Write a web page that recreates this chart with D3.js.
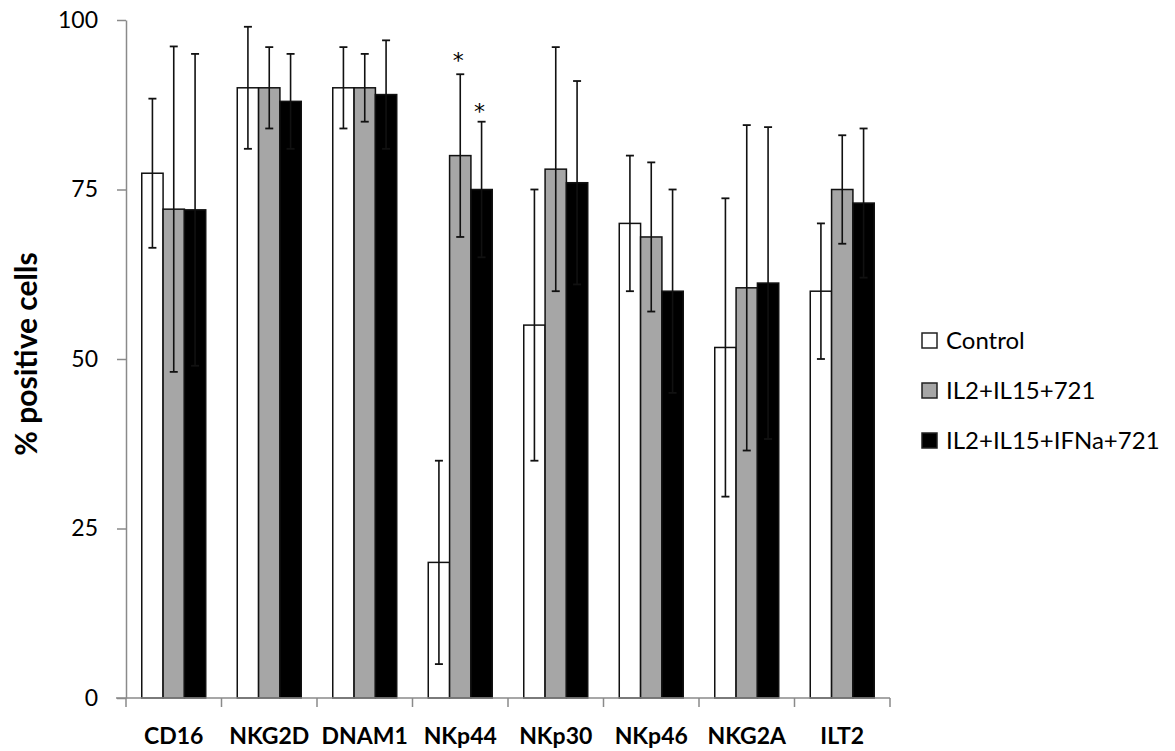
<!DOCTYPE html>
<html>
<head>
<meta charset="utf-8">
<script src="https://cdn.jsdelivr.net/npm/d3@7"></script>
<style>
  html, body { margin: 0; padding: 0; background: #fff; }
  svg { display: block; }
  text { font-family: Lato, "Open Sans", sans-serif; fill: #000; }
</style>
</head>
<body>
<svg id="chart" width="1175" height="751"></svg>
<script>
// ---- data ----
const categories = ["CD16", "NKG2D", "DNAM1", "NKp44", "NKp30", "NKp46", "NKG2A", "ILT2"];
const seriesNames = ["Control", "IL2+IL15+721", "IL2+IL15+IFNa+721"];
const controlValues = [77.4, 90, 90, 20, 55, 70, 51.7, 60];
const controlErrors = [11, 9, 6, 15, 20, 10, 22, 10];
const il2il15Values = [72.1, 90, 90, 80, 78, 68, 60.5, 75];
const il2il15Errors = [24, 6, 5, 12, 18, 11, 24, 8];
const ifnaValues = [72, 88, 89, 75, 76, 60, 61.2, 73];
const ifnaErrors = [23, 7, 8, 10, 15, 15, 23, 11];
const yTicks = [0, 25, 50, 75, 100];
const significance = [{cat: "NKp44", series: 1, gap: 6}, {cat: "NKp44", series: 2, gap: 3}];
const fills = ["#ffffff", "#a6a6a6", "#000000"];

const seriesValues = [controlValues, il2il15Values, ifnaValues];
const seriesErrors = [controlErrors, il2il15Errors, ifnaErrors];

const svg = d3.select("#chart");

const x0 = d3.scaleBand().domain(categories).range([126, 890])
  .paddingInner(0.33).paddingOuter(0.165);
const x1 = d3.scaleBand().domain(d3.range(seriesNames.length)).range([0, x0.bandwidth()]);
const y = d3.scaleLinear().domain([0, 100]).range([698, 20]);

const axisColor = "#8a8a8a";

// y axis
const yAxis = svg.append("g").attr("transform", "translate(126,0)")
  .call(d3.axisLeft(y).tickValues(yTicks).tickSize(9).tickPadding(19).tickSizeOuter(0));
yAxis.select(".domain").attr("stroke", axisColor).attr("stroke-width", 1.5);
yAxis.selectAll(".tick line").attr("stroke", axisColor).attr("stroke-width", 1.5);
yAxis.selectAll(".tick text").style("font-family", "Lato, sans-serif").style("font-size", "23px").attr("fill", "#111");

// bars
const groups = svg.append("g").selectAll("g").data(categories).join("g")
  .attr("transform", d => `translate(${x0(d)},0)`);

const barData = (c, ci) => seriesNames.map((s, si) => ({
  si, v: seriesValues[si][ci], e: seriesErrors[si][ci]
}));

groups.each(function(c, ci) {
  const g = d3.select(this);
  const data = barData(c, ci);
  g.selectAll("rect").data(data).join("rect")
    .attr("x", d => x1(d.si))
    .attr("y", d => y(d.v))
    .attr("width", x1.bandwidth())
    .attr("height", d => y(0) - y(d.v))
    .attr("fill", d => fills[d.si])
    .attr("stroke", "#111")
    .attr("stroke-width", 1.5);
  // error bars
  const eb = g.selectAll("g.eb").data(data).join("g").attr("class", "eb")
    .attr("transform", d => `translate(${x1(d.si) + x1.bandwidth() / 2},0)`);
  eb.append("line").attr("y1", d => y(d.v + d.e)).attr("y2", d => y(d.v - d.e))
    .attr("stroke", "#111").attr("stroke-width", 1.6);
  eb.append("line").attr("x1", -4).attr("x2", 4).attr("y1", d => y(d.v + d.e)).attr("y2", d => y(d.v + d.e))
    .attr("stroke", "#111").attr("stroke-width", 1.8);
  eb.append("line").attr("x1", -4).attr("x2", 4).attr("y1", d => y(d.v - d.e)).attr("y2", d => y(d.v - d.e))
    .attr("stroke", "#111").attr("stroke-width", 1.8);
});

// significance asterisks
significance.forEach(s => {
  const ci = categories.indexOf(s.cat);
  const v = seriesValues[s.series][ci] + seriesErrors[s.series][ci];
  svg.append("text")
    .attr("x", x0(s.cat) + x1(s.series) + x1.bandwidth() / 2 - 2)
    .attr("y", y(v) - s.gap)
    .attr("text-anchor", "middle")
    .style("font-family", "'DejaVu Sans', sans-serif")
    .style("font-size", "22px")
    .attr("fill", "#222")
    .text("*");
});

// x axis
const xg = svg.append("g");
xg.append("line").attr("x1", 116).attr("x2", 890).attr("y1", y(0)).attr("y2", y(0))
  .attr("stroke", axisColor).attr("stroke-width", 1.5);
const boundaries = categories.map(c => x0(c) - x0.step() * x0.paddingInner() / 2).concat([x0.range()[1]]);
xg.selectAll("line.tk").data(boundaries).join("line").attr("class", "tk")
  .attr("x1", d => d).attr("x2", d => d).attr("y1", y(0)).attr("y2", y(0) + 9)
  .attr("stroke", axisColor).attr("stroke-width", 1.5);
xg.selectAll("text").data(categories).join("text")
  .attr("x", d => x0(d) + x0.bandwidth() / 2)
  .attr("y", 744)
  .attr("text-anchor", "middle")
  .style("font-size", "23px").style("font-weight", "bold")
  .text(d => d);

// y title
svg.append("text")
  .attr("transform", "translate(37,354) rotate(-90)")
  .attr("text-anchor", "middle")
  .style("font-size", "30px").style("font-weight", "bold")
  .text("% positive cells");

// legend
const legend = svg.append("g").selectAll("g").data(seriesNames).join("g")
  .attr("transform", (d, i) => `translate(922,${333 + i * 50})`);
legend.append("rect").attr("width", 15).attr("height", 15)
  .attr("fill", (d, i) => fills[i]).attr("stroke", "#222").attr("stroke-width", 1.5);
legend.append("text").attr("x", 24).attr("y", 16)
  .style("font-size", "24px").attr("fill", "#111")
  .text(d => d);
</script>
</body>
</html>
